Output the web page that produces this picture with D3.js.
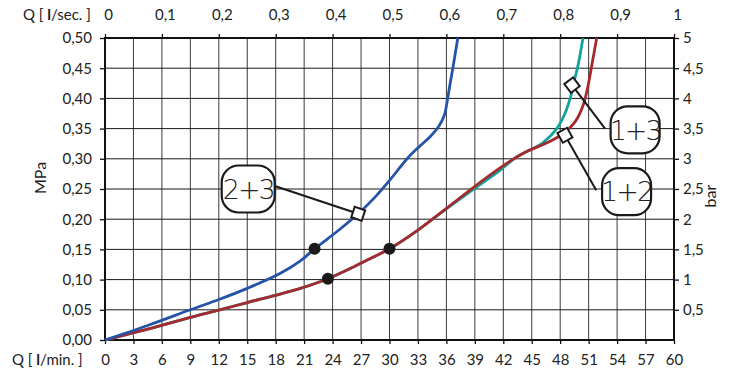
<!DOCTYPE html>
<html>
<head>
<meta charset="utf-8">
<script src="https://cdn.jsdelivr.net/npm/d3@7"></script>
<style>
  body { margin: 0; background: #fff; }
  svg { display: block; }
  text { font-family: Lato, "Open Sans", sans-serif; fill: #222; }
</style>
</head>
<body>
<div id="root"></div>
<script>
// tick values for the four axes
const qMinTicks = d3.range(0, 61, 3);
const qSecTicks = d3.range(0, 11).map(d => d / 10);
const mpaTicks = d3.range(0, 11).map(d => d * 0.05);
const barTicks = d3.range(1, 11).map(d => d * 0.5);

// curves: [Q l/min, MPa]
const curve23 = [[0, 0], [4.5, 0.024], [9, 0.05], [12, 0.067], [15, 0.0855], [18.45, 0.11], [20.6, 0.131],
  [22.1, 0.151], [24.5, 0.18], [26.7, 0.209], [28.5, 0.237], [30.05, 0.265], [31.9, 0.301], [33.2, 0.321],
  [34.3, 0.337], [35.2, 0.354], [35.8, 0.373], [36.1, 0.397], [36.4, 0.425], [36.7, 0.452], [37.2, 0.5]];
const curve13 = [[0, 0], [4.5, 0.018], [9, 0.0375], [12.1, 0.05], [15, 0.062], [18.45, 0.076], [20.6, 0.0855],
  [23.5, 0.1015], [26.2, 0.121], [28, 0.135], [30, 0.151], [33, 0.182], [36, 0.217], [38.8, 0.249],
  [41.65, 0.281], [43.4, 0.303], [45, 0.316], [46.2, 0.327], [47.6, 0.349], [48.5, 0.375], [49.1, 0.403],
  [49.5, 0.43], [49.9, 0.456], [50.4, 0.5]];
const curve12 = [[0, 0], [4.5, 0.018], [9, 0.0375], [12.1, 0.05], [15, 0.062], [18.45, 0.076], [20.6, 0.0855],
  [23.5, 0.1015], [26.2, 0.121], [28, 0.135], [30, 0.151], [33, 0.182], [36, 0.218], [38.8, 0.252],
  [41.4, 0.282], [42.8, 0.297], [44.3, 0.311], [45.8, 0.321], [47.2, 0.331], [48.4, 0.343], [49.6, 0.362],
  [50.4, 0.388], [50.9, 0.418], [51.3, 0.452], [51.85, 0.5]];

// operating points
const dots = [[22.1, 0.151], [23.5, 0.1015], [30, 0.151]];

// callouts: label, marker point, box centre, line start
const callouts = [
  { label: "2+3", at: [26.7, 0.209], box: [15.1, 0.25], from: [17.9, 0.255] },
  { label: "1+3", at: [49.25, 0.422], box: [55.9, 0.348], from: [52.73, 0.35] },
  { label: "1+2", at: [48.5, 0.339], box: [55.0, 0.2455], from: [51.8, 0.248] }
];

const margin = { top: 38, right: 71, bottom: 36, left: 105 };
const outerWidth = 745, outerHeight = 376;
const width = outerWidth - margin.left - margin.right;
const height = outerHeight - margin.top - margin.bottom;

const x = d3.scaleLinear().domain([0, 60]).range([0, width]);
const xSec = d3.scaleLinear().domain([0, 1]).range([0, width]);
const y = d3.scaleLinear().domain([0, 0.5]).range([height, 0]);
const yBar = d3.scaleLinear().domain([0, 5]).range([height, 0]);

const comma = d => String(+d.toFixed(2)).replace(".", ",");

const svg = d3.select("#root").append("svg")
  .attr("width", outerWidth).attr("height", outerHeight);
const chart = svg.append("g").attr("transform", `translate(${margin.left},${margin.top})`);

// grid
chart.append("g").selectAll("line").data(qMinTicks).join("line")
  .attr("x1", d => x(d)).attr("x2", d => x(d)).attr("y1", 0).attr("y2", height)
  .attr("stroke", "#3a3a3a").attr("stroke-width", 1);
chart.append("g").selectAll("line").data(mpaTicks).join("line")
  .attr("x1", 0).attr("x2", width).attr("y1", d => y(d)).attr("y2", d => y(d))
  .attr("stroke", "#1a1a1a").attr("stroke-width", 1);

// axes
function styleAxis(g) {
  g.select(".domain").remove();
  g.selectAll(".tick line").attr("stroke", "#111").attr("stroke-width", 1.3);
  g.selectAll("text").style("font-size", "15px").attr("fill", "#222");
}
chart.append("g").attr("transform", `translate(0,${height})`)
  .call(d3.axisBottom(x).tickValues(qMinTicks).tickSize(4).tickFormat(d3.format("d")))
  .call(styleAxis)
  .call(g => g.selectAll("text").attr("y", 14));
chart.append("g")
  .call(d3.axisTop(xSec).tickValues(qSecTicks).tickSize(4).tickFormat(comma))
  .call(styleAxis)
  .call(g => g.selectAll("text").attr("y", -18).attr("dx", 3));
chart.append("g")
  .call(d3.axisLeft(y).tickValues(mpaTicks).tickSize(5).tickFormat(d => d.toFixed(2).replace(".", ",")))
  .call(styleAxis)
  .call(g => g.selectAll("text").attr("x", -13));
chart.append("g").attr("transform", `translate(${width},0)`)
  .call(d3.axisRight(yBar).tickValues(barTicks).tickSize(5).tickFormat(comma))
  .call(styleAxis)
  .call(g => g.selectAll("text").attr("x", 9));

// frame
chart.append("rect").attr("width", width).attr("height", height)
  .attr("fill", "none").attr("stroke", "#111").attr("stroke-width", 2);

// axis titles
const qSec = svg.append("text").attr("x", 23).attr("y", 20).style("font-size", "15px");
qSec.append("tspan").text("Q [ ");
qSec.append("tspan").style("font-weight", "bold").text("l");
qSec.append("tspan").text("/sec. ]");
const qMin = svg.append("text").attr("x", 12).attr("y", 365).style("font-size", "15px");
qMin.append("tspan").text("Q [ ");
qMin.append("tspan").style("font-weight", "bold").text("l");
qMin.append("tspan").text("/min. ]");
svg.append("text").attr("transform", "translate(46,178) rotate(-90)")
  .attr("text-anchor", "middle").style("font-size", "16px").text("MPa");
svg.append("text").attr("transform", "translate(716,196) rotate(-90)")
  .attr("text-anchor", "middle").style("font-size", "16px").text("bar");

// curves
const line = d3.line().x(d => x(d[0])).y(d => y(d[1])).curve(d3.curveCatmullRom.alpha(0.5));
const plot = chart.append("g");
plot.append("path").datum(curve13).attr("d", line)
  .attr("fill", "none").attr("stroke", "#12a39b").attr("stroke-width", 2.8);
plot.append("path").datum(curve12).attr("d", line)
  .attr("fill", "none").attr("stroke", "#a52a2e").attr("stroke-width", 2.8);
plot.append("path").datum(curve23).attr("d", line)
  .attr("fill", "none").attr("stroke", "#2553a8").attr("stroke-width", 2.8);

plot.selectAll("circle").data(dots).join("circle")
  .attr("cx", d => x(d[0])).attr("cy", d => y(d[1])).attr("r", 6).attr("fill", "#1a1a1a");

// callouts
callouts.forEach(c => {
  const g = chart.append("g");
  const mx = x(c.at[0]), my = y(c.at[1]);
  const fx = x(c.from[0]), fy = y(c.from[1]);
  const ang = Math.atan2(my - fy, mx - fx) * 180 / Math.PI;
  g.append("line").attr("x1", fx).attr("y1", fy).attr("x2", mx).attr("y2", my)
    .attr("stroke", "#1a1a1a").attr("stroke-width", 2);
  g.append("rect").attr("x", -5.5).attr("y", -5.5).attr("width", 11).attr("height", 11)
    .attr("transform", `translate(${mx},${my}) rotate(${ang})`)
    .attr("fill", "#fff").attr("stroke", "#1a1a1a").attr("stroke-width", 2);
  const bx = x(c.box[0]), by = y(c.box[1]);
  const bw = c.label === "2+3" ? 53 : 49, bh = 47;
  g.append("rect").attr("x", bx - bw / 2).attr("y", by - bh / 2).attr("width", bw).attr("height", bh)
    .attr("rx", 17).attr("fill", "#fff").attr("stroke", "#1a1a1a").attr("stroke-width", 2.2);
  g.append("text").attr("x", bx).attr("y", by).attr("dy", "0.36em").attr("text-anchor", "middle")
    .style("font-family", "'DejaVu Sans'").style("font-weight", 200).style("font-size", "27px")
    .style("letter-spacing", "-2px").attr("fill", "#333").text(c.label);
});
</script>
</body>
</html>
